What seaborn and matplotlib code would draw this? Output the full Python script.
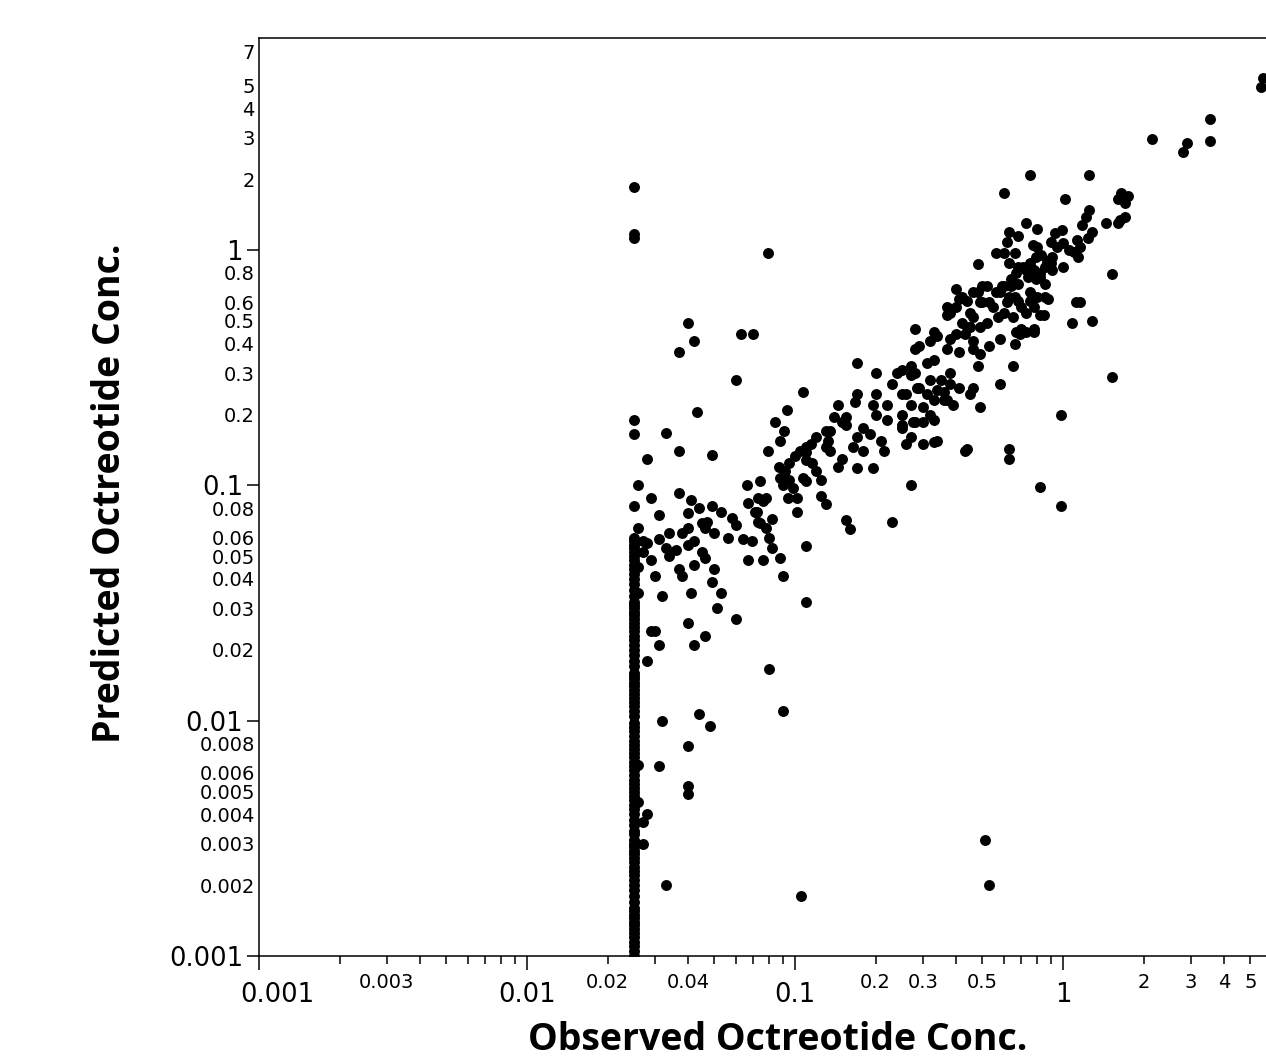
import numpy as np
import pandas as pd
import matplotlib
matplotlib.use("Agg")
import matplotlib.pyplot as plt
import seaborn as sns
from matplotlib.transforms import ScaledTranslation

# ---------------- data (observed, predicted) ----------------
lloq_obs = 0.025
lloq_pred = [1.85, 1.17, 1.12, 0.19, 0.165, 0.082,
             0.06, 0.058, 0.056, 0.054, 0.052, 0.05, 0.048, 0.046, 0.044, 0.042,
             0.04, 0.038, 0.036, 0.034, 0.032, 0.031, 0.03, 0.029, 0.028, 0.027,
             0.026, 0.025, 0.024, 0.023, 0.022, 0.021, 0.02, 0.019, 0.018, 0.017,
             0.016, 0.0155, 0.015, 0.0145, 0.014, 0.0135, 0.013, 0.0125, 0.012,
             0.0115, 0.011, 0.0105, 0.0098, 0.0094, 0.009, 0.0086, 0.0082, 0.0079,
             0.0076, 0.0073, 0.007, 0.0067, 0.0064, 0.0062, 0.0059, 0.0056, 0.0054,
             0.0052, 0.005, 0.0048, 0.0046, 0.0044, 0.0042, 0.004, 0.0038, 0.0036,
             0.0034, 0.0033, 0.0031, 0.003, 0.0029, 0.0028, 0.0027, 0.0026, 0.0025,
             0.0024, 0.0023, 0.0022, 0.0021, 0.002, 0.0019, 0.0018, 0.0017, 0.0016,
             0.00155, 0.0015, 0.00145, 0.0014, 0.00135, 0.0013, 0.00125, 0.0012,
             0.00115, 0.0011, 0.00105, 0.001]

pts_low = [(0.04, 0.49), (0.042, 0.41), (0.037, 0.37), (0.063, 0.44), (0.07, 0.44),
           (0.06, 0.28), (0.079, 0.97), (0.043, 0.205), (0.033, 0.167), (0.028, 0.13),
           (0.037, 0.14), (0.049, 0.135), (0.093, 0.21), (0.084, 0.185), (0.091, 0.17),
           (0.088, 0.155), (0.079, 0.14), (0.107, 0.25),
           (0.026, 0.1), (0.029, 0.088), (0.031, 0.075), (0.026, 0.066), (0.037, 0.093),
           (0.041, 0.087), (0.044, 0.08), (0.049, 0.082), (0.053, 0.077), (0.058, 0.073),
           (0.06, 0.068), (0.056, 0.06), (0.066, 0.1), (0.074, 0.104), (0.067, 0.084),
           (0.072, 0.077), (0.076, 0.086), (0.082, 0.072), (0.074, 0.069), (0.078, 0.066),
           (0.08, 0.06), (0.064, 0.059), (0.069, 0.058), (0.082, 0.054), (0.088, 0.049),
           (0.067, 0.048), (0.076, 0.048), (0.09, 0.041), (0.04, 0.076), (0.04, 0.066),
           (0.038, 0.063), (0.034, 0.063), (0.031, 0.059), (0.028, 0.057), (0.045, 0.069),
           (0.047, 0.07), (0.05, 0.063), (0.046, 0.066), (0.04, 0.056), (0.036, 0.053),
           (0.034, 0.05), (0.033, 0.054), (0.042, 0.058), (0.045, 0.052), (0.046, 0.049),
           (0.029, 0.048), (0.042, 0.046), (0.05, 0.044), (0.037, 0.044), (0.038, 0.041),
           (0.03, 0.041), (0.049, 0.039), (0.041, 0.035), (0.053, 0.035), (0.032, 0.034),
           (0.051, 0.03), (0.06, 0.027), (0.04, 0.026), (0.029, 0.024), (0.03, 0.024),
           (0.031, 0.021), (0.042, 0.021), (0.046, 0.023), (0.028, 0.018), (0.08, 0.0165),
           (0.027, 0.058), (0.027, 0.052), (0.026, 0.045), (0.026, 0.035),
           (0.032, 0.01), (0.044, 0.0107), (0.048, 0.0095), (0.04, 0.0078), (0.031, 0.0064),
           (0.026, 0.0065), (0.04, 0.0053), (0.04, 0.0049), (0.026, 0.0045), (0.028, 0.004),
           (0.027, 0.0037), (0.027, 0.003), (0.033, 0.002), (0.09, 0.011), (0.105, 0.0018),
           (0.51, 0.0031), (0.53, 0.002), (0.11, 0.032)]

pts_mid = [(0.145, 0.22), (0.17, 0.245), (0.168, 0.225), (0.2, 0.3), (0.24, 0.3),
           (0.27, 0.295), (0.23, 0.27), (0.2, 0.245), (0.22, 0.22), (0.195, 0.22),
           (0.2, 0.2), (0.25, 0.245), (0.285, 0.26), (0.32, 0.28), (0.34, 0.255),
           (0.36, 0.23), (0.27, 0.22), (0.3, 0.215), (0.32, 0.2), (0.33, 0.19),
           (0.25, 0.2), (0.25, 0.175), (0.27, 0.16), (0.275, 0.185), (0.3, 0.15),
           (0.34, 0.155), (0.26, 0.15), (0.215, 0.14), (0.21, 0.155), (0.19, 0.165),
           (0.18, 0.175), (0.17, 0.16), (0.18, 0.14), (0.165, 0.145), (0.155, 0.18),
           (0.155, 0.195), (0.14, 0.195), (0.15, 0.185), (0.135, 0.17), (0.13, 0.17),
           (0.133, 0.155), (0.12, 0.16), (0.115, 0.15), (0.11, 0.145), (0.13, 0.145),
           (0.135, 0.14), (0.15, 0.13), (0.145, 0.12), (0.17, 0.118), (0.195, 0.118),
           (0.27, 0.1), (0.23, 0.07), (0.155, 0.071), (0.16, 0.065), (0.104, 0.14),
           (0.1, 0.133), (0.095, 0.125), (0.11, 0.138), (0.11, 0.128), (0.116, 0.125),
           (0.12, 0.115), (0.107, 0.107), (0.11, 0.104), (0.125, 0.105), (0.125, 0.09),
           (0.13, 0.083), (0.087, 0.12), (0.088, 0.107), (0.092, 0.115), (0.095, 0.105),
           (0.09, 0.1), (0.098, 0.097), (0.102, 0.088), (0.094, 0.088), (0.102, 0.077),
           (0.073, 0.088), (0.078, 0.088), (0.071, 0.077), (0.073, 0.07), (0.11, 0.055),
           (0.17, 0.33), (0.43, 0.14)]

pts_upper = [(0.48, 0.87), (0.4, 0.68), (0.41, 0.62), (0.28, 0.46), (0.37, 0.57),
             (0.38, 0.54), (0.37, 0.53), (0.4, 0.57), (0.42, 0.49), (0.45, 0.54),
             (0.44, 0.47), (0.48, 0.66), (0.52, 0.7), (0.49, 0.6), (0.53, 0.6),
             (0.56, 0.66), (0.59, 0.7), (0.64, 0.75), (0.67, 0.8), (0.71, 0.85),
             (0.75, 0.88), (0.62, 0.6), (0.66, 0.63), (0.7, 0.57), (0.75, 0.66),
             (0.79, 0.75), (0.82, 0.8), (0.86, 0.85), (0.9, 0.88), (0.82, 0.53),
             (1.08, 0.49), (1.12, 0.6), (0.78, 0.46), (0.7, 0.46), (0.67, 0.45),
             (0.66, 0.4), (0.58, 0.42), (0.53, 0.39), (0.46, 0.41), (0.43, 0.44),
             (0.4, 0.44), (0.38, 0.42), (0.37, 0.38), (0.41, 0.37), (0.46, 0.38),
             (0.49, 0.36), (0.48, 0.32), (0.65, 0.32), (0.58, 0.27), (0.46, 0.26),
             (0.45, 0.245), (0.41, 0.26), (0.38, 0.27), (0.38, 0.3), (0.35, 0.28),
             (0.33, 0.34), (0.31, 0.33), (0.29, 0.39), (0.28, 0.38), (0.25, 0.31),
             (0.32, 0.41), (0.33, 0.45), (0.34, 0.43), (0.27, 0.32), (0.28, 0.3),
             (0.29, 0.26), (0.26, 0.245), (0.31, 0.245), (0.33, 0.23), (0.36, 0.25),
             (0.37, 0.23), (0.39, 0.22), (0.49, 0.215), (0.3, 0.185), (0.28, 0.185),
             (0.25, 0.18), (0.22, 0.19), (0.33, 0.153), (0.44, 0.143), (0.63, 0.143),
             (0.63, 0.13), (0.98, 0.2), (1.52, 0.29), (0.82, 0.098), (0.98, 0.082)]

pts_high = [(0.75, 2.08), (1.25, 2.08), (0.6, 1.75), (1.02, 1.65), (1.65, 1.75),
            (1.75, 1.7), (1.6, 1.65), (1.7, 1.58), (1.7, 1.38), (1.63, 1.34),
            (1.6, 1.3), (1.45, 1.3), (1.25, 1.48), (1.22, 1.38), (1.18, 1.28),
            (1.28, 1.19), (1.24, 1.13), (1.13, 1.1), (1.16, 1.03), (1.1, 0.98),
            (1.14, 0.93), (0.99, 1.22), (0.93, 1.18), (0.9, 1.08), (0.95, 1.03),
            (1.0, 1.07), (1.05, 1.0), (0.73, 1.3), (0.8, 1.23), (0.68, 1.15),
            (0.63, 1.19), (0.62, 1.08), (0.56, 0.97), (0.6, 0.97), (0.8, 1.03),
            (0.77, 1.05), (0.83, 0.95), (0.79, 0.93), (0.87, 0.9), (0.91, 0.93),
            (1.0, 0.85), (0.91, 0.82), (0.66, 0.97), (0.68, 0.85), (0.73, 0.82),
            (0.63, 0.88), (0.78, 0.82), (0.82, 0.77), (0.86, 0.72), (0.74, 0.77),
            (0.68, 0.72), (0.64, 0.7), (0.6, 0.7), (0.58, 0.66), (0.63, 0.63),
            (0.68, 0.61), (0.75, 0.61), (0.8, 0.63), (0.86, 0.63), (0.5, 0.7),
            (0.46, 0.66), (0.44, 0.61), (0.42, 0.63), (0.5, 0.6), (0.55, 0.57),
            (0.6, 0.54), (0.65, 0.52), (0.57, 0.52), (0.73, 0.54), (0.78, 0.57),
            (0.85, 0.53), (0.88, 0.62), (1.52, 0.79), (1.16, 0.6), (1.28, 0.5),
            (0.73, 0.45), (0.78, 0.45), (0.69, 0.44), (0.46, 0.52), (0.45, 0.47),
            (0.49, 0.47), (0.52, 0.49),
            (2.15, 2.96), (2.8, 2.6), (2.9, 2.85), (3.53, 3.6), (3.53, 2.9),
            (5.48, 4.93), (5.57, 5.38)]

# ---------------- axis ticks / labels ----------------
x_major = [0.001, 0.01, 0.1, 1, 10]
x_major_labels = ["0.001", "0.01", "0.1", "1", ""]
x_minor = [0.002, 0.003, 0.004, 0.005, 0.006, 0.007, 0.008, 0.009,
           0.02, 0.03, 0.04, 0.05, 0.06, 0.07, 0.08, 0.09,
           0.2, 0.3, 0.4, 0.5, 0.6, 0.7, 0.8, 0.9,
           2, 3, 4, 5, 6, 7, 8, 9]
x_minor_labels = ["", "0.003", "", "", "", "", "", "",
                  "0.02", "", "0.04", "", "", "", "", "",
                  "0.2", "0.3", "", "0.5", "", "", "", "",
                  "2", "3", "4", "5", "6", "", "", ""]
y_major = [0.001, 0.01, 0.1, 1]
y_major_labels = ["0.001", "0.01", "0.1", "1"]
y_minor = [0.002, 0.003, 0.004, 0.005, 0.006, 0.008,
           0.02, 0.03, 0.04, 0.05, 0.06, 0.08,
           0.2, 0.3, 0.4, 0.5, 0.6, 0.8,
           2, 3, 4, 5, 7]
y_minor_labels = ["0.002", "0.003", "0.004", "0.005", "0.006", "0.008",
                  "0.02", "0.03", "0.04", "0.05", "0.06", "0.08",
                  "0.2", "0.3", "0.4", "0.5", "0.6", "0.8",
                  "2", "3", "4", "5", "7"]

x_label = "Observed Octreotide Conc."
y_label = "Predicted Octreotide Conc."

# ---------------- build frame ----------------
obs = [lloq_obs] * len(lloq_pred)
pred = list(lloq_pred)
for grp in (pts_low, pts_mid, pts_upper, pts_high):
    obs += [p[0] for p in grp]
    pred += [p[1] for p in grp]
df = pd.DataFrame({"obs": obs, "pred": pred})

# ---------------- plot ----------------
sns.set_style("ticks")
plt.rcParams["font.family"] = ["DejaVu Sans"]

fig = plt.figure(figsize=(12.66, 10.60), dpi=100)
ax = fig.add_axes([0.20458, 0.09811, 0.84676, 0.86604])
ax.set_xscale("log")
ax.set_yscale("log")
sns.scatterplot(data=df, x="obs", y="pred", color="black", s=62,
                linewidth=0, ax=ax, legend=False)

ax.set_xticks(x_major, labels=x_major_labels)
ax.set_xticks(x_minor, labels=x_minor_labels, minor=True)
ax.set_yticks(y_major, labels=y_major_labels)
ax.set_yticks(y_minor, labels=y_minor_labels, minor=True)
ax.set_xlim(0.001, 10)
ax.set_ylim(0.001, 7.96)

ax.tick_params(axis="x", which="major", length=10, width=1.1, pad=9,
               labelsize=18.5, direction="out", colors="black")
ax.tick_params(axis="x", which="minor", length=5.8, width=1.1, pad=6.5,
               labelsize=14, direction="out", colors="black")
ax.tick_params(axis="y", which="major", length=8.6, width=1.1, pad=3,
               labelsize=18.5, direction="out", colors="black")
ax.tick_params(axis="y", which="minor", length=0, width=0, pad=3,
               labelsize=14, colors="black")

# shift the first x label right (as in the reference)
lbl0 = ax.get_xticklabels()[0]
lbl0.set_transform(lbl0.get_transform() + ScaledTranslation(0.18, 0, fig.dpi_scale_trans))

for side in ("left", "bottom", "top"):
    ax.spines[side].set_linewidth(1.1)
    ax.spines[side].set_color("black")
ax.spines["right"].set_visible(False)
ax.set_xlabel("")
ax.set_ylabel("")

fig.text(0.6146, 0.0095, x_label, ha="center", va="baseline", fontsize=27,
         fontweight="bold", family=["Open Sans", "DejaVu Sans"], color="black")
fig.text(0.0869, 0.535, y_label, ha="center", va="center", rotation=90,
         fontsize=27, fontweight="bold", family=["Open Sans", "DejaVu Sans"],
         color="black")

fig.savefig("out.png", dpi=100)
